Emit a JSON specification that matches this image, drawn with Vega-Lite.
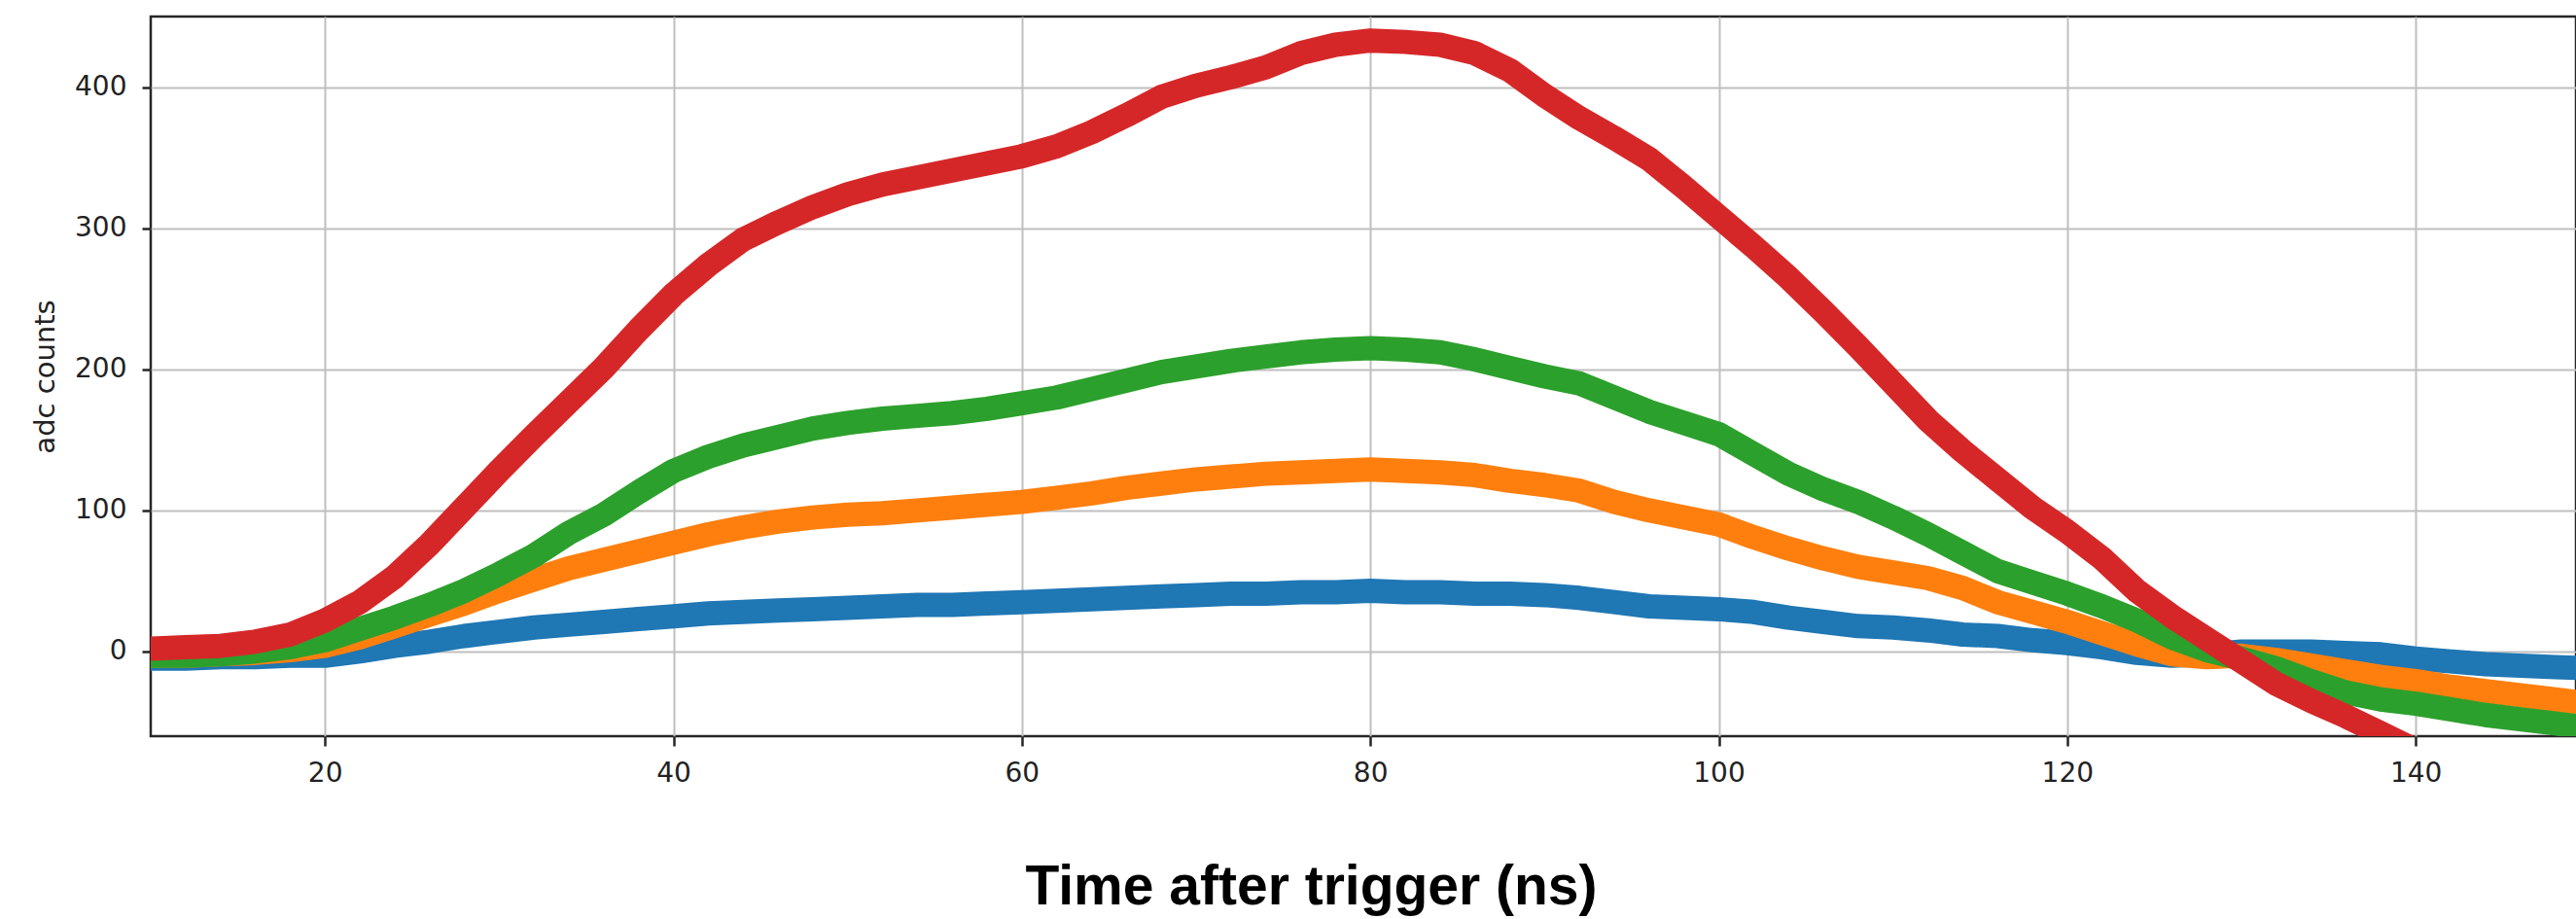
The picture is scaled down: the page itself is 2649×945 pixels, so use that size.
{
  "$schema": "https://vega.github.io/schema/vega-lite/v6.json",
  "width": 2494,
  "height": 740,
  "autosize": {"type": "none"},
  "padding": {"left": 155, "top": 17, "right": 0, "bottom": 188},
  "background": "white",
  "config": {"view": {"stroke": "#262626", "strokeWidth": 2.5}},
  "data": {"values": [
    {"t": 10, "ch1": -5, "ch2": -3, "ch3": -3, "ch4": 2},
    {"t": 12, "ch1": -5, "ch2": -3, "ch3": -3, "ch4": 3},
    {"t": 14, "ch1": -4, "ch2": -2, "ch3": -2, "ch4": 4},
    {"t": 16, "ch1": -4, "ch2": -1, "ch3": 0, "ch4": 7},
    {"t": 18, "ch1": -3, "ch2": 1, "ch3": 3, "ch4": 12},
    {"t": 20, "ch1": -3, "ch2": 4, "ch3": 8, "ch4": 22},
    {"t": 22, "ch1": 0, "ch2": 10, "ch3": 16, "ch4": 35},
    {"t": 24, "ch1": 4, "ch2": 18, "ch3": 24, "ch4": 53},
    {"t": 26, "ch1": 7, "ch2": 26, "ch3": 33, "ch4": 76},
    {"t": 28, "ch1": 11, "ch2": 34, "ch3": 43, "ch4": 102},
    {"t": 30, "ch1": 14, "ch2": 43, "ch3": 55, "ch4": 128},
    {"t": 32, "ch1": 17, "ch2": 51, "ch3": 68, "ch4": 153},
    {"t": 34, "ch1": 19, "ch2": 59, "ch3": 84, "ch4": 177},
    {"t": 36, "ch1": 21, "ch2": 65, "ch3": 97, "ch4": 201},
    {"t": 38, "ch1": 23, "ch2": 71, "ch3": 113, "ch4": 228},
    {"t": 40, "ch1": 25, "ch2": 77, "ch3": 128, "ch4": 253},
    {"t": 42, "ch1": 27, "ch2": 83, "ch3": 138, "ch4": 274},
    {"t": 44, "ch1": 28, "ch2": 88, "ch3": 146, "ch4": 292},
    {"t": 46, "ch1": 29, "ch2": 92, "ch3": 152, "ch4": 304},
    {"t": 48, "ch1": 30, "ch2": 95, "ch3": 158, "ch4": 315},
    {"t": 50, "ch1": 31, "ch2": 97, "ch3": 162, "ch4": 324},
    {"t": 52, "ch1": 32, "ch2": 98, "ch3": 165, "ch4": 331},
    {"t": 54, "ch1": 33, "ch2": 100, "ch3": 167, "ch4": 336},
    {"t": 56, "ch1": 33, "ch2": 102, "ch3": 169, "ch4": 341},
    {"t": 58, "ch1": 34, "ch2": 104, "ch3": 172, "ch4": 346},
    {"t": 60, "ch1": 35, "ch2": 106, "ch3": 176, "ch4": 351},
    {"t": 62, "ch1": 36, "ch2": 109, "ch3": 180, "ch4": 358},
    {"t": 64, "ch1": 37, "ch2": 112, "ch3": 186, "ch4": 368},
    {"t": 66, "ch1": 38, "ch2": 116, "ch3": 192, "ch4": 380},
    {"t": 68, "ch1": 39, "ch2": 119, "ch3": 198, "ch4": 393},
    {"t": 70, "ch1": 40, "ch2": 122, "ch3": 202, "ch4": 401},
    {"t": 72, "ch1": 41, "ch2": 124, "ch3": 206, "ch4": 407},
    {"t": 74, "ch1": 41, "ch2": 126, "ch3": 209, "ch4": 414},
    {"t": 76, "ch1": 42, "ch2": 127, "ch3": 212, "ch4": 424},
    {"t": 78, "ch1": 42, "ch2": 128, "ch3": 214, "ch4": 430},
    {"t": 80, "ch1": 43, "ch2": 129, "ch3": 215, "ch4": 433},
    {"t": 82, "ch1": 42, "ch2": 128, "ch3": 214, "ch4": 432},
    {"t": 84, "ch1": 42, "ch2": 127, "ch3": 212, "ch4": 430},
    {"t": 86, "ch1": 41, "ch2": 125, "ch3": 207, "ch4": 424},
    {"t": 88, "ch1": 41, "ch2": 121, "ch3": 201, "ch4": 412},
    {"t": 90, "ch1": 40, "ch2": 118, "ch3": 195, "ch4": 394},
    {"t": 92, "ch1": 38, "ch2": 114, "ch3": 190, "ch4": 378},
    {"t": 94, "ch1": 35, "ch2": 106, "ch3": 180, "ch4": 364},
    {"t": 96, "ch1": 32, "ch2": 100, "ch3": 170, "ch4": 349},
    {"t": 98, "ch1": 31, "ch2": 95, "ch3": 162, "ch4": 329},
    {"t": 100, "ch1": 30, "ch2": 90, "ch3": 154, "ch4": 308},
    {"t": 102, "ch1": 28, "ch2": 81, "ch3": 140, "ch4": 287},
    {"t": 104, "ch1": 24, "ch2": 73, "ch3": 126, "ch4": 265},
    {"t": 106, "ch1": 21, "ch2": 66, "ch3": 115, "ch4": 241},
    {"t": 108, "ch1": 18, "ch2": 60, "ch3": 106, "ch4": 216},
    {"t": 110, "ch1": 17, "ch2": 56, "ch3": 95, "ch4": 190},
    {"t": 112, "ch1": 15, "ch2": 52, "ch3": 83, "ch4": 164},
    {"t": 114, "ch1": 12, "ch2": 45, "ch3": 70, "ch4": 142},
    {"t": 116, "ch1": 11, "ch2": 35, "ch3": 57, "ch4": 122},
    {"t": 118, "ch1": 8, "ch2": 28, "ch3": 49, "ch4": 102},
    {"t": 120, "ch1": 6, "ch2": 21, "ch3": 41, "ch4": 85},
    {"t": 122, "ch1": 3, "ch2": 13, "ch3": 32, "ch4": 66},
    {"t": 124, "ch1": -1, "ch2": 5, "ch3": 22, "ch4": 43},
    {"t": 126, "ch1": -3, "ch2": -2, "ch3": 10, "ch4": 25},
    {"t": 128, "ch1": -2, "ch2": -4, "ch3": 1, "ch4": 9},
    {"t": 130, "ch1": 0, "ch2": -3, "ch3": -5, "ch4": -7},
    {"t": 132, "ch1": 0, "ch2": -6, "ch3": -12, "ch4": -23},
    {"t": 134, "ch1": 0, "ch2": -10, "ch3": -21, "ch4": -35},
    {"t": 136, "ch1": -1, "ch2": -14, "ch3": -29, "ch4": -46},
    {"t": 138, "ch1": -2, "ch2": -18, "ch3": -34, "ch4": -58},
    {"t": 140, "ch1": -5, "ch2": -21, "ch3": -37, "ch4": -70},
    {"t": 142, "ch1": -7, "ch2": -25, "ch3": -41, "ch4": -82},
    {"t": 144, "ch1": -9, "ch2": -28, "ch3": -45},
    {"t": 146, "ch1": -10, "ch2": -31, "ch3": -48},
    {"t": 148, "ch1": -11, "ch2": -34, "ch3": -51},
    {"t": 150, "ch1": -12, "ch2": -37, "ch3": -54}
  ]},
  "transform": [{"fold": ["ch1", "ch2", "ch3", "ch4"], "as": ["ch", "v"]}],
  "mark": {"type": "line", "strokeWidth": 25, "strokeCap": "round", "strokeJoin": "round", "clip": true},
  "encoding": {
    "x": {
      "field": "t", "type": "quantitative",
      "scale": {"domain": [10, 149.2], "nice": false, "zero": false},
      "axis": {
        "values": [20, 40, 60, 80, 100, 120, 140],
        "domain": false,
        "grid": true, "gridColor": "#bfbfbf", "gridWidth": 2,
        "ticks": true, "tickSize": 10, "tickWidth": 2.5, "tickColor": "#262626",
        "labelFont": "DejaVu Sans", "labelFontSize": 28, "labelColor": "#222222",
        "labelBaseline": "alphabetic", "labelPadding": 36, "labelFlush": false,
        "title": "Time after trigger (ns)",
        "titleFont": "Liberation Sans", "titleFontWeight": "bold", "titleFontSize": 57, "titleColor": "#000000",
        "titleX": 1193, "titleY": 172, "titleBaseline": "alphabetic", "titleAlign": "center"
      }
    },
    "y": {
      "field": "v", "type": "quantitative",
      "scale": {"domain": [-60, 450], "nice": false, "zero": false},
      "axis": {
        "values": [0, 100, 200, 300, 400],
        "domain": false,
        "grid": true, "gridColor": "#bfbfbf", "gridWidth": 2,
        "ticks": true, "tickSize": 9, "tickWidth": 2.5, "tickColor": "#262626",
        "labelFont": "DejaVu Sans", "labelFontSize": 28, "labelColor": "#222222",
        "labelPadding": 16, "labelBaseline": "middle", "labelFlush": false,
        "title": "adc counts",
        "titleFont": "DejaVu Sans", "titleFontWeight": "normal", "titleFontSize": 29, "titleColor": "#222222",
        "titleAngle": 270, "titleX": -100, "titleY": 370, "titleBaseline": "alphabetic", "titleAlign": "center"
      }
    },
    "color": {
      "field": "ch", "type": "nominal",
      "scale": {"domain": ["ch1", "ch2", "ch3", "ch4"], "range": ["#1f77b4", "#ff7f0e", "#2ca02c", "#d62728"]},
      "legend": null
    }
  }
}
